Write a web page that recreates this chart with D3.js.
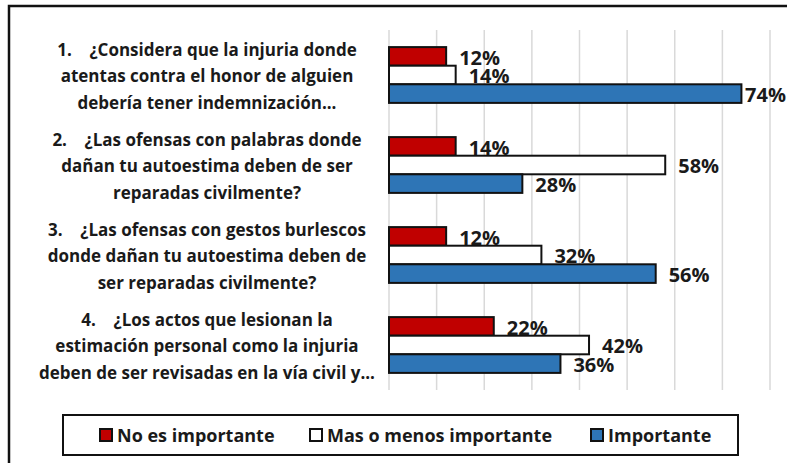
<!DOCTYPE html>
<html>
  <head>
    <title>Chart</title>
    <meta charset="utf-8">
    <style>
        body {
            margin: 0;
            background: white;
        }
        text {
            font-family: "Open Sans", Lato, sans-serif;
            font-weight: bold;
            fill: #1a1a1a;
            white-space: pre;
        }
        .grid line {
            stroke: #d9d9d9;
            stroke-width: 1.5px;
        }
        .bar {
            stroke: #111;
            stroke-width: 2px;
        }
    </style>
  </head>
  <body>
    <div id="chart"></div>
    <script src="https://d3js.org/d3.v7.min.js"></script>
    <script>
        // questions, each one already broken in lines as in the picture
        var questions = [
          ["1.    \u00bfConsidera que la injuria donde", "atentas contra el honor de alguien", "deber\u00eda tener indemnizaci\u00f3n..."],
          ["2.    \u00bfLas ofensas con palabras donde", "da\u00f1an tu autoestima deben de ser", "reparadas civilmente?"],
          ["3.    \u00bfLas ofensas con gestos burlescos", "donde da\u00f1an tu autoestima deben de", "ser reparadas civilmente?"],
          ["4.    \u00bfLos actos que lesionan la", "estimaci\u00f3n personal como la injuria", "deben de ser revisadas en la v\u00eda civil y..."]
        ];
        var seriesNames = ["No es importante", "Mas o menos importante", "Importante"];
        var seriesColors = ["#c00000", "#ffffff", "#2e75b6"];
        var noImportante = [12, 14, 12, 22];
        var masMenos = [14, 58, 32, 42];
        var importante = [74, 28, 56, 36];
        var gridTicks = [0, 10, 20, 30, 40, 50, 60, 70, 80];

        var allSeries = [noImportante, masMenos, importante];

        var W = 787, H = 463;
        var svg = d3.select("#chart").append("svg")
            .attr("width", W)
            .attr("height", H);

        // outer frame (runs off the right and bottom edges)
        svg.append("path")
            .attr("d", "M9,470 V6 H795")
            .attr("fill", "none")
            .attr("stroke", "#111")
            .attr("stroke-width", 2.5);

        var x = d3.scaleLinear()
            .domain([0, 80])
            .range([389, 770]);

        var y = d3.scaleBand()
            .domain(d3.range(questions.length))
            .range([30, 390])
            .paddingInner(0.38)
            .paddingOuter(0.19);

        var ySub = d3.scaleBand()
            .domain(d3.range(allSeries.length))
            .range([0, y.bandwidth()]);

        // vertical gridlines
        svg.append("g")
            .attr("class", "grid")
            .selectAll("line")
            .data(gridTicks)
            .enter()
            .append("line")
              .attr("x1", function(d) { return x(d); })
              .attr("x2", function(d) { return x(d); })
              .attr("y1", 30)
              .attr("y2", 390);

        // bars
        var groups = svg.selectAll(".group")
            .data(questions)
            .enter()
            .append("g")
              .attr("class", "group")
              .attr("transform", function(d, i) { return "translate(0," + y(i) + ")"; });

        groups.each(function(q, qi) {
            var g = d3.select(this);
            allSeries.forEach(function(s, si) {
                g.append("rect")
                    .attr("class", "bar")
                    .attr("x", x(0))
                    .attr("y", ySub(si))
                    .attr("width", x(s[qi]) - x(0))
                    .attr("height", ySub.bandwidth())
                    .attr("fill", seriesColors[si]);
            });
            allSeries.forEach(function(s, si) {
                var t = g.append("text")
                    .attr("y", ySub(si) + ySub.bandwidth() / 2 + 8.5)
                    .attr("font-size", 20)
                    .text(s[qi] + "%");
                var w = t.node().getComputedTextLength();
                var lx = Math.min(x(s[qi]) + 13, W - w - 1);
                t.attr("x", lx);
            });
        });

        // category labels (centred, three lines each)
        questions.forEach(function(lines, qi) {
            var cy = y(qi) + y.bandwidth() / 2;
            var t = svg.append("text")
                .attr("text-anchor", "middle")
                .attr("font-size", 17);
            lines.forEach(function(line, li) {
                t.append("tspan")
                    .attr("x", 207)
                    .attr("y", cy + 7 + (li - 1) * 26.5)
                    .text(line);
            });
        });

        // legend
        var legend = svg.append("g");
        legend.append("rect")
            .attr("x", 63)
            .attr("y", 415)
            .attr("width", 675)
            .attr("height", 40)
            .attr("fill", "white")
            .attr("stroke", "#111")
            .attr("stroke-width", 2);

        var legendX = [100, 310, 591];
        seriesNames.forEach(function(name, i) {
            legend.append("rect")
                .attr("x", legendX[i])
                .attr("y", 429)
                .attr("width", 12)
                .attr("height", 12)
                .attr("fill", seriesColors[i])
                .attr("stroke", "#111")
                .attr("stroke-width", 2);
            legend.append("text")
                .attr("x", legendX[i] + 17)
                .attr("y", 441.5)
                .attr("font-size", 18)
                .text(name);
        });
    </script>
  </body>
</html>
